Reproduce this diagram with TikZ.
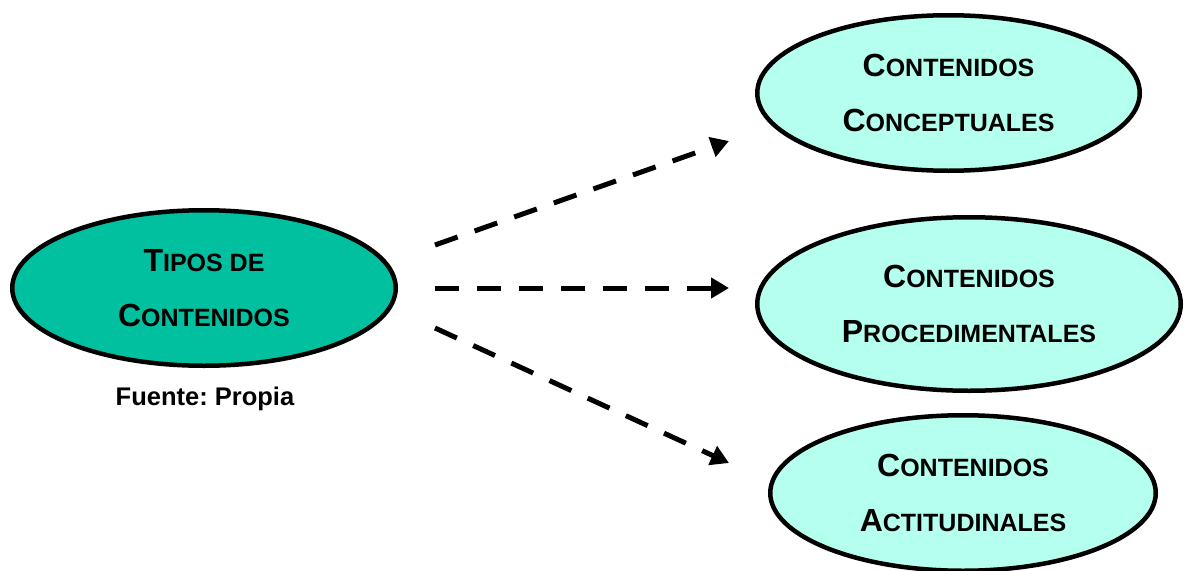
\documentclass[tikz,border=0pt]{standalone}
\usepackage{fontspec}
\setmainfont{Liberation Sans}
\usetikzlibrary{shapes.geometric,arrows.meta}
\definecolor{tealfill}{RGB}{0,192,160}
\definecolor{lightfill}{RGB}{180,255,238}
\newcommand{\capfirst}[1]{{\fontsize{32}{55}\selectfont #1}}
\tikzset{
  ellbox/.style={ellipse, draw=black, line width=4.5pt, inner sep=0pt, align=center,
    font=\bfseries\fontsize{25}{55}\selectfont},
  mainell/.style={ellbox, fill=tealfill},
  subell/.style={ellbox, fill=lightfill},
  dasharrow/.style={line width=5pt, dash pattern=on 24pt off 18pt,
    -{Triangle[length=18pt,width=20pt]}},
  caption/.style={font=\frenchspacing\bfseries\fontsize{25.5}{30}\selectfont, inner sep=0pt}
}
\begin{document}
\begin{tikzpicture}[x=1pt,y=-1pt]
\useasboundingbox (0,0) rectangle (1185,570);
\node[mainell, minimum width=383.5pt, minimum height=155.5pt] (tipos) at (204,288)
  {\capfirst{T}IPOS DE\\\capfirst{C}ONTENIDOS};
\node[caption] (fuente) at (205,399) {Fuente: Propia};
\node[subell, minimum width=382.5pt, minimum height=155.5pt] (concep) at (948.5,93)
  {\capfirst{C}ONTENIDOS\\\capfirst{C}ONCEPTUALES};
\node[subell, minimum width=423.5pt, minimum height=173.5pt] (proced) at (969,304)
  {\capfirst{C}ONTENIDOS\\\capfirst{P}ROCEDIMENTALES};
\node[subell, minimum width=385.5pt, minimum height=155.5pt] (actit) at (963,493)
  {\capfirst{C}ONTENIDOS\\\capfirst{A}CTITUDINALES};
\coordinate (s1) at (435,245);
\coordinate (e1) at (729,141);
\coordinate (s2) at (435,288);
\coordinate (e2) at (729,288);
\coordinate (s3) at (435,328);
\coordinate (e3) at (729,463);
\draw[dasharrow] (s1) -- (e1);
\draw[dasharrow] (s2) -- (e2);
\draw[dasharrow] (s3) -- (e3);
\end{tikzpicture}
\end{document}
